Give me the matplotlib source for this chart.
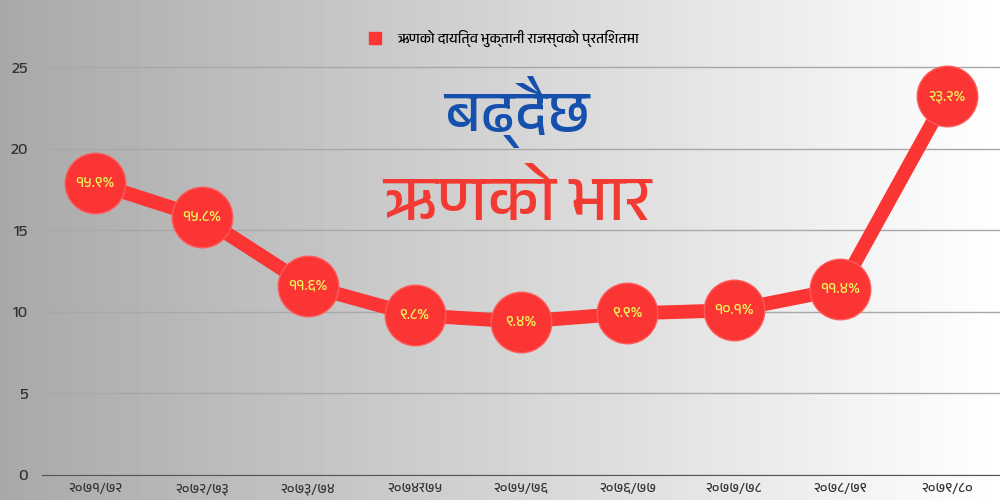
import matplotlib
matplotlib.use("Agg")
import matplotlib.pyplot as plt
from matplotlib import font_manager
import numpy as np

years = ["२०७१/७२", "२०७२/७३", "२०७३/७४", "२०७४र७५", "२०७५/७६",
         "२०७६/७७", "२०७७/७८", "२०७८/७९", "२०७९/८०"]
share = [17.9, 15.8, 11.6, 9.8, 9.4, 9.9, 10.1, 11.4, 23.2]
point_labels = ["१५.९%", "१५.८%", "११.६%", "९.८%", "९.४%",
                "९.९%", "१०.१%", "११.४%", "२३.२%"]
series_name = "ऋणको दायित्व भुक्तानी राजस्वको प्रतिशतमा"
headline_1 = "बढ्दैछ"
headline_2 = "ऋणको भार"
yticks = [0, 5, 10, 15, 20, 25]

# look for any installed family that has devanagari glyphs
deva = []
for f in font_manager.fontManager.ttflist:
    if "Devanagari" in f.name or "Lohit" in f.name or "Mukta" in f.name or "Hind" in f.name:
        if f.name not in deva:
            deva.append(f.name)
families = deva + ["DejaVu Sans"]
plt.rcParams["font.family"] = families

red = "#fb3434"

fig = plt.figure(figsize=(10, 5), dpi=100)

# background gradient
bg = fig.add_axes([0, 0, 1, 1], zorder=0)
grad = np.linspace(0.66, 1.0, 256).reshape(1, -1)
bg.imshow(grad, aspect="auto", cmap="gray", vmin=0, vmax=1, extent=[0, 1, 0, 1])
bg.set_axis_off()

ax = fig.add_axes([0.042, 0.05, 0.958, 0.881], zorder=1)
ax.patch.set_alpha(0)
x = np.arange(len(years))
ax.plot(x, share, color=red, lw=10, solid_capstyle="round", zorder=3)
ax.scatter(x, share, s=1900, color=red, edgecolors="#ff5a5a", linewidths=1, zorder=4)
for xi, yi, t in zip(x, share, point_labels):
    ax.text(xi, yi, t, ha="center", va="center", color="#e6f55a",
            fontsize=11, fontweight="bold", zorder=5)

ax.set_xlim(-0.5, len(years) - 0.5)
ax.set_ylim(0, 27)
ax.set_yticks(yticks)
ax.set_xticks(x)
ax.set_xticklabels(years)
ax.grid(axis="y", color="#a8a8a8", lw=1)
ax.set_axisbelow(True)
for s in ["top", "right", "left"]:
    ax.spines[s].set_visible(False)
ax.spines["bottom"].set_color("#555555")
ax.tick_params(axis="y", length=0, pad=10, labelsize=12, labelcolor="#333333")
ax.tick_params(axis="x", length=0, pad=6, labelsize=10, labelcolor="#333333")

ax.plot([], [], "s", color=red, ms=9, label=series_name)
fig.legend(loc="upper center", bbox_to_anchor=(0.5, 0.965), frameon=False,
           fontsize=10, handletextpad=0.6)

fig.text(0.517, 0.775, headline_1, ha="center", va="center", color="#1650ad",
         fontsize=42, fontweight="bold", zorder=6)
fig.text(0.517, 0.595, headline_2, ha="center", va="center", color="#f23a32",
         fontsize=46, fontweight="bold", zorder=6)

fig.savefig("out.png", dpi=100)
